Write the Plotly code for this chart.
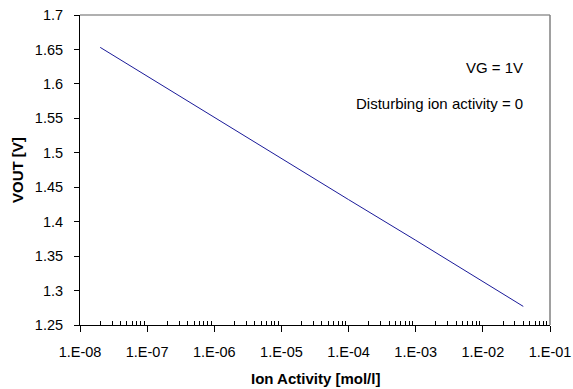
import plotly.graph_objects as go

# Data
ion_activity = [2e-8, 1e-7, 1e-6, 1e-5, 1e-4, 1e-3, 1e-2, 4e-2]
vout = [1.653, 1.611, 1.551, 1.492, 1.432, 1.373, 1.313, 1.277]

x_tick_vals = [1e-8, 1e-7, 1e-6, 1e-5, 1e-4, 1e-3, 1e-2, 1e-1]
x_tick_text = ["1.E-08", "1.E-07", "1.E-06", "1.E-05", "1.E-04", "1.E-03", "1.E-02", "1.E-01"]
minor_vals = [m * d for d in [1e-8, 1e-7, 1e-6, 1e-5, 1e-4, 1e-3, 1e-2] for m in range(2, 10)]

x_title = "Ion Activity [mol/l]"
y_title = "VOUT [V]"
notes = ["VG = 1V", "Disturbing ion activity = 0"]

FONT = "Liberation Sans, Arial, sans-serif"

fig = go.Figure()
fig.add_trace(go.Scatter(
    x=ion_activity, y=vout, mode="lines",
    line=dict(color="#1a1a99", width=1),
    showlegend=False,
))

fig.update_layout(
    width=573, height=389,
    margin=dict(l=80, r=23, t=15, b=64),
    paper_bgcolor="white", plot_bgcolor="white",
    font=dict(family=FONT, size=15, color="black"),
    xaxis=dict(
        type="log", range=[-8, -1], automargin=False,
        tickvals=x_tick_vals, ticktext=x_tick_text,
        ticks="outside", ticklen=6, tickcolor="black", tickwidth=1,
        ticklabelstandoff=8,
        tickfont=dict(size=14.5),
        showline=True, linecolor="black", linewidth=1,
        showgrid=False, zeroline=False,
        minor=dict(tickmode="array", tickvals=minor_vals, ticks="inside", ticklen=4,
                   tickcolor="black", tickwidth=1, showgrid=False),
    ),
    yaxis=dict(
        range=[1.25, 1.7], dtick=0.05, tick0=1.25, automargin=False,
        ticks="outside", ticklen=5, tickcolor="black",
        ticklabelstandoff=8,
        showline=True, linecolor="black", linewidth=1,
        showgrid=False, zeroline=False,
        tickfont=dict(size=14.5),
    ),
    shapes=[
        dict(type="line", xref="paper", yref="paper", x0=0, x1=1, y0=1, y1=1,
             line=dict(color="#b0b0b0", width=2)),
        dict(type="line", xref="paper", yref="paper", x0=1, x1=1, y0=0, y1=1,
             line=dict(color="#808080", width=1.5)),
    ],
    annotations=[
        dict(text="<b>" + x_title + "</b>", xref="paper", yref="paper", x=0.5, y=-0.171,
             xanchor="center", yanchor="middle", showarrow=False, font=dict(size=15)),
        dict(text="<b>" + y_title + "</b>", xref="paper", yref="paper", x=-0.134, y=0.5,
             xanchor="center", yanchor="middle", textangle=-90, showarrow=False,
             font=dict(size=15)),
        dict(text=notes[0], xref="paper", yref="paper", x=0.947, y=0.832,
             xanchor="right", yanchor="middle", showarrow=False, font=dict(size=15)),
        dict(text=notes[1], xref="paper", yref="paper", x=0.947, y=0.713,
             xanchor="right", yanchor="middle", showarrow=False, font=dict(size=15)),
    ],
)

fig.write_html(
    "out.html",
    config={"displayModeBar": False},
    post_script="document.body.style.margin='0';document.body.style.padding='0';",
)
